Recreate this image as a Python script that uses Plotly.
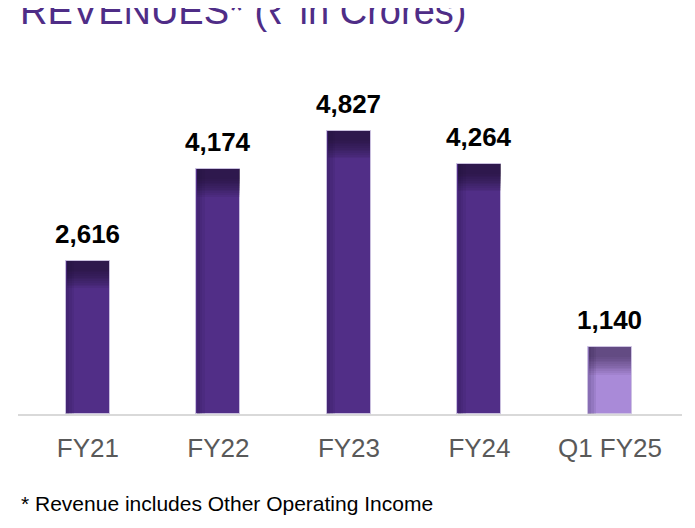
import plotly.graph_objects as go

categories = ["FY21", "FY22", "FY23", "FY24", "Q1 FY25"]
revenues = [2616, 4174, 4827, 4264, 1140]
value_labels = ["2,616", "4,174", "4,827", "4,264", "1,140"]
title_text = "REVENUES* (₹ in Crores)"
footnote_text = "* Revenue includes Other Operating Income"

bar_colors = ["#512E87", "#512E87", "#512E87", "#512E87", "#A98AD8"]
FONT = "Liberation Sans, Arial, sans-serif"
BAR_W = 0.337

# the page body adds an 8px offset; plot area target: x 18..682, y 62..414
PAGE_OFF = 8
fig = go.Figure()

fig.add_trace(go.Bar(
    x=categories, y=revenues, width=BAR_W,
    marker=dict(color=bar_colors, line=dict(color="rgba(205,195,225,0.9)", width=1)),
    hoverinfo="skip", showlegend=False,
))

# dark top shading: many thin translucent layers for a smooth fade
shade_cols = ["rgba(26,13,46,0.075)"] * 4 + ["rgba(26,13,46,0.06)"]
for h in range(170, 500, 30):
    fig.add_trace(go.Bar(
        x=categories, y=[h] * len(revenues), base=[v - h for v in revenues],
        width=BAR_W - 0.012, marker=dict(color=shade_cols, line=dict(width=0)),
        hoverinfo="skip", showlegend=False,
    ))

# darker left edge shading
for w in [0.02, 0.04, 0.06]:
    fig.add_trace(go.Bar(
        x=categories, y=revenues, width=w, offset=-BAR_W / 2 + 0.004,
        marker=dict(color="rgba(26,13,46,0.08)", line=dict(width=0)),
        hoverinfo="skip", showlegend=False,
    ))

annotations = []
for c, v, t in zip(categories, revenues, value_labels):
    annotations.append(dict(
        x=c, y=v, xref="x", yref="y", text=f"<b>{t}</b>", showarrow=False,
        yanchor="bottom", yshift=10,
        font=dict(family=FONT, size=26, color="#000000"),
    ))

def py(p):
    return (414 - p) / 352

annotations.append(dict(
    x=0, xref="paper", y=py(11), yref="paper", xanchor="left", yanchor="middle",
    text=title_text, showarrow=False,
    font=dict(family=FONT, size=38, color="#4F2D87"),
))
annotations.append(dict(
    x=0, xref="paper", y=py(503), yref="paper", xanchor="left", yanchor="middle",
    xshift=1, text=footnote_text, showarrow=False,
    font=dict(family=FONT, size=21, color="#000000"),
))

fig.update_layout(
    width=695, height=528,
    margin=dict(l=18 - PAGE_OFF, r=13 + PAGE_OFF, t=62 - PAGE_OFF, b=114 + PAGE_OFF, pad=0),
    paper_bgcolor="white", plot_bgcolor="white",
    barmode="overlay", bargap=0,
    annotations=annotations,
    shapes=[dict(type="line", xref="paper", yref="paper",
                 x0=(500 - 18) / 664, x1=1.05, y0=py(5), y1=py(5),
                 line=dict(color="#8C8C8C", width=2))],
    xaxis=dict(
        range=[-0.536, 4.552], showgrid=False, zeroline=False,
        showline=True, linecolor="#D9D9D9", linewidth=2,
        ticks="", ticklabelstandoff=10,
        tickfont=dict(family=FONT, size=26, color="#595959"),
        fixedrange=True,
    ),
    yaxis=dict(range=[0, 6000], visible=False, fixedrange=True),
)

fig.write_html("out.html")
